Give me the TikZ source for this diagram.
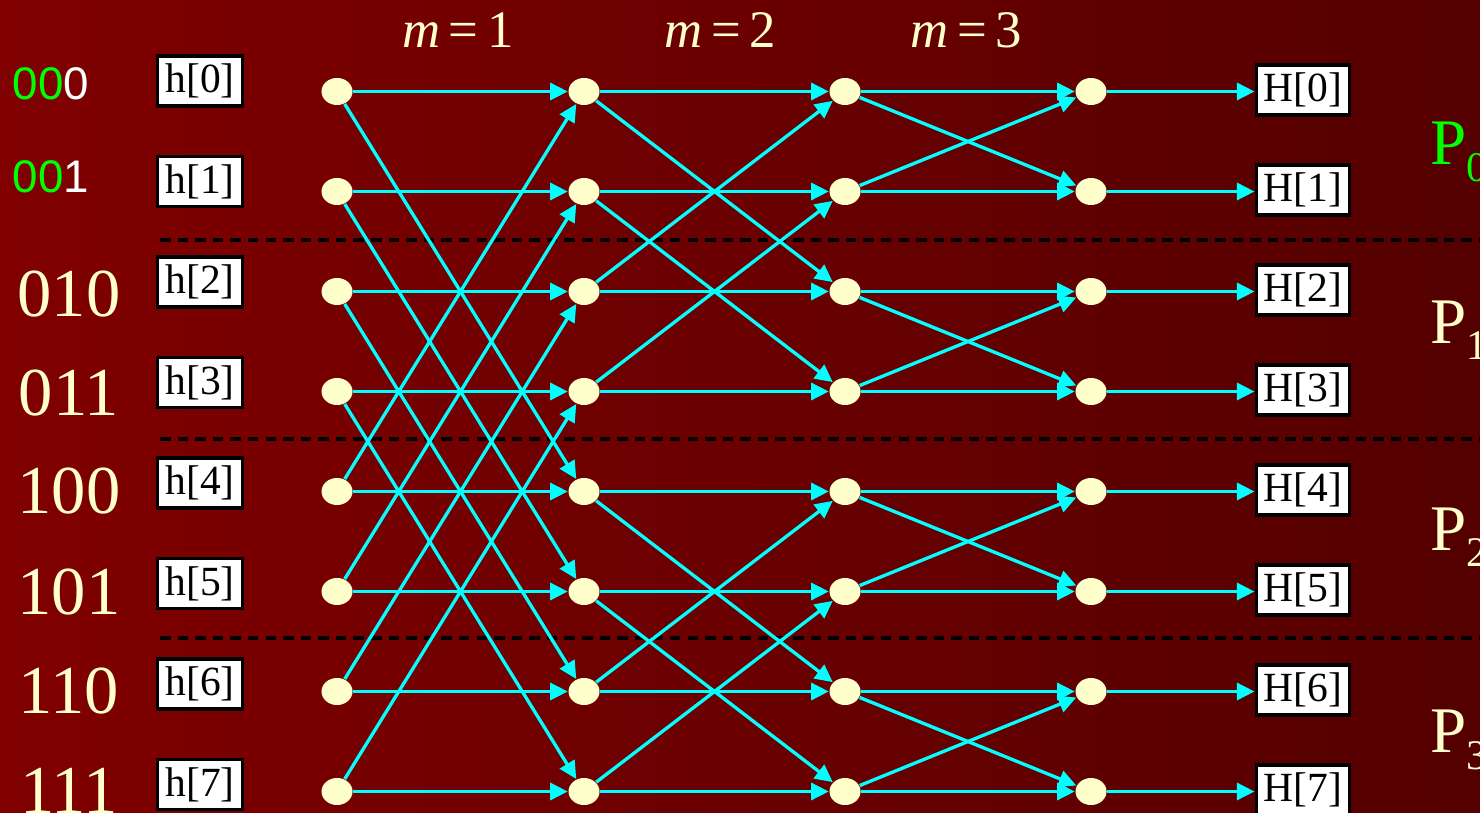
\documentclass[tikz,border=0pt]{standalone}
\usepackage{fontspec}
\setmainfont{Liberation Serif}
\newfontfamily\binsans{Liberation Sans}
\usepackage{xcolor}
\usetikzlibrary{arrows.meta,shapes.geometric}
\definecolor{Wine}{RGB}{128,0,0}
\definecolor{DarkWine}{RGB}{84,0,0}
\definecolor{Cream}{RGB}{255,255,204}
\definecolor{Wire}{RGB}{0,255,255}
\definecolor{Lime}{RGB}{0,255,0}

\tikzset{
  dot/.style={ellipse,fill=Cream,inner sep=0pt,minimum width=0.31cm,minimum height=0.27cm},
  wire/.style={draw=Wire,line width=0.95pt,-{Triangle[length=5pt,width=4.8pt]}},
  sample/.style={draw=black,fill=white,line width=1.1pt,inner sep=0pt,
                 minimum width=0.85cm,minimum height=0.5cm,
                 font=\fontsize{11.8}{13}\selectfont},
  result/.style={sample,minimum width=0.93cm},
  bits/.style={text=Cream,font=\fontsize{19.5}{21}\selectfont},
  part/.style={anchor=west,inner sep=0pt,text=Cream,font=\fontsize{18.5}{20}\selectfont},
  stage/.style={text=Cream,font=\fontsize{15}{17}\selectfont},
  divider/.style={draw=black,line width=1pt,dash pattern=on 3pt off 2pt}
}

\begin{document}
\begin{tikzpicture}[x=0.01cm,y=-0.01cm]
  % background
  \shade[left color=Wine,right color=DarkWine] (0,0) rectangle (1480,813);
  \useasboundingbox (0,0) rectangle (1480,813);

  % stage labels
  \node[stage] (m1) at (458,30) {\textit{m}\,=\,1};
  \node[stage] (m2) at (720,30) {\textit{m}\,=\,2};
  \node[stage] (m3) at (966,30) {\textit{m}\,=\,3};

  % partition lines
  \foreach \y in {240,439,638}
    \draw[divider] (160,\y) -- (1480,\y);

  % bit reversed indices
  \node[font=\binsans\fontsize{13}{15}\selectfont] (b0) at (51,84)
    {\textcolor{Lime}{00}\textcolor{white}{0}};
  \node[font=\binsans\fontsize{13}{15}\selectfont] (b1) at (51,177)
    {\textcolor{Lime}{00}\textcolor{white}{1}};
  \node[bits] (b2) at (69,294) {010};
  \node[bits] (b3) at (69,393) {011};
  \node[bits] (b4) at (69,491) {100};
  \node[bits] (b5) at (69,592) {101};
  \node[bits] (b6) at (69,691) {110};
  \node[bits] (b7) at (69,791) {111};

  % inputs, butterfly nodes and outputs
  \foreach \r in {0,...,7}{
    \node[sample] (h\r) at (200,{81+100.5*\r}) {h[\r]};
    \node[result] (H\r) at (1303,{90+100*\r}) {H[\r]};
  }
  \foreach \c/\x in {0/337,1/584,2/845,3/1091}
    \foreach \r in {0,...,7}
      \node[dot] (n\c\r) at (\x,{91.5+100*\r}) {};

  % m = 1
  \foreach \r/\p in {0/4,1/5,2/6,3/7,4/0,5/1,6/2,7/3}{
    \draw[wire] (n0\r) -- (n1\r);
    \draw[wire] (n0\r) -- (n1\p);
  }
  % m = 2
  \foreach \r/\p in {0/2,1/3,2/0,3/1,4/6,5/7,6/4,7/5}{
    \draw[wire] (n1\r) -- (n2\r);
    \draw[wire] (n1\r) -- (n2\p);
  }
  % m = 3
  \foreach \r/\p in {0/1,1/0,2/3,3/2,4/5,5/4,6/7,7/6}{
    \draw[wire] (n2\r) -- (n3\r);
    \draw[wire] (n2\r) -- (n3\p);
  }
  \foreach \r in {0,...,7}
    \draw[wire] (n3\r) -- (n3\r -| H\r.west);

  % processors
  \node[part,text=Lime] (P0) at (1430,152) {P\raisebox{-0.55ex}{\fontsize{12}{12}\selectfont 0}};
  \node[part] (P1) at (1430,330) {P\raisebox{-0.55ex}{\fontsize{12}{12}\selectfont 1}};
  \node[part] (P2) at (1430,537) {P\raisebox{-0.55ex}{\fontsize{12}{12}\selectfont 2}};
  \node[part] (P3) at (1430,740) {P\raisebox{-0.55ex}{\fontsize{12}{12}\selectfont 3}};
\end{tikzpicture}
\end{document}
